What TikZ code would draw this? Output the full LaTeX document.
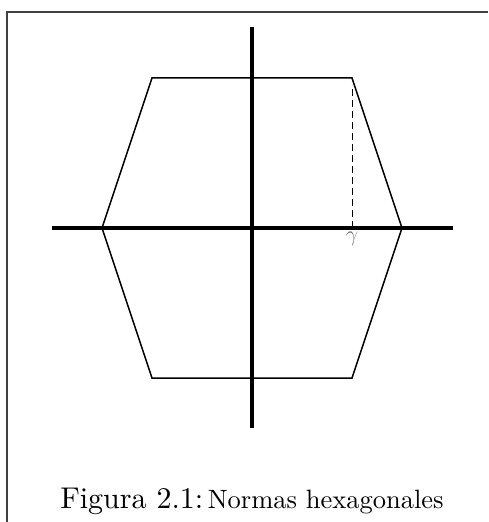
\documentclass[tikz,border=0pt]{standalone}
\usepackage{fix-cm}
\usepackage{amsmath,amssymb}
\usepackage{fontspec}
\setmainfont{lmroman10-regular.otf}
\usepackage{xcolor}
\usepackage{tikz}

\begin{document}
\begin{tikzpicture}[x=1pt,y=1pt]
    \useasboundingbox (-252,-294) rectangle (236,228);
    % frame
    \draw[line width=1.4pt,black!75] (-245,-294) -- (-245,216) -- (236,216);
    % axes
    \coordinate (xl) at (-200,0);
    \coordinate (xr) at (201,0);
    \coordinate (yb) at (0,-200);
    \coordinate (yt) at (0,201);
    \draw[line width=3.2pt] (xl) -- (xr);
    \draw[line width=3.2pt] (yb) -- (yt);
    % hexagon
    \coordinate (h1) at (150,0);
    \coordinate (h2) at (100,150);
    \coordinate (h3) at (-100,150);
    \coordinate (h4) at (-150,0);
    \coordinate (h5) at (-100,-150);
    \coordinate (h6) at (100,-150);
    \draw[line width=1.5pt,line join=miter] (h1) -- (h2) -- (h3) -- (h4) -- (h5) -- (h6) -- cycle;
    \coordinate (g) at (100,0);
    \coordinate (gt) at (100,143);
    \draw[dashed,line width=1pt,dash pattern=on 7pt off 4pt] (g) -- (gt);
    \node[below=0pt,black!55,font=\fontsize{22}{24}\selectfont] (gam) at (g) {$\gamma$};
    % caption
    \node[anchor=base,inner sep=0pt] (cap) at (0,-280)
      {{\fontsize{30}{34}\selectfont Figura 2.1:} {\fontsize{26.5}{30}\selectfont Normas hexagonales}};
\end{tikzpicture}
\end{document}
